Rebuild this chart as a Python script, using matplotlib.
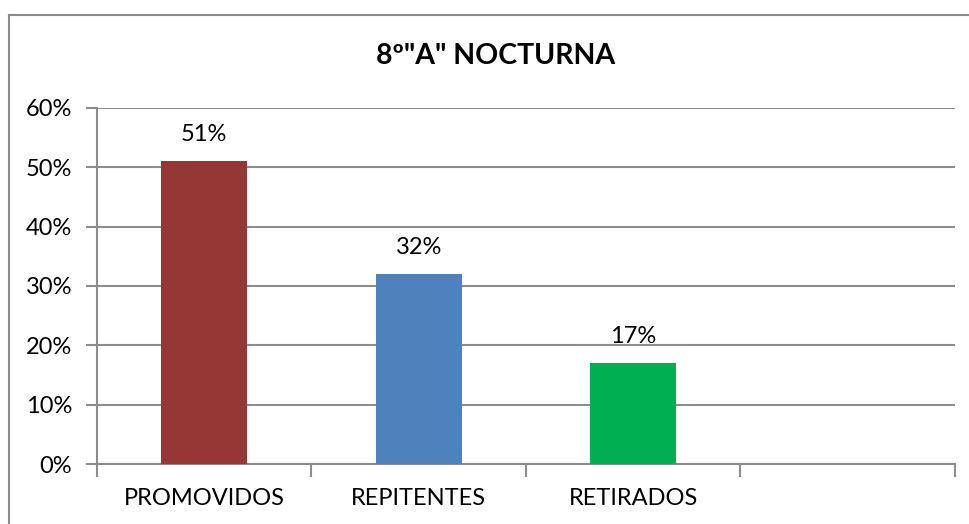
import matplotlib.pyplot as plt
from matplotlib.lines import Line2D
from matplotlib.ticker import PercentFormatter

categories = ["PROMOVIDOS", "REPITENTES", "RETIRADOS", ""]
values = [0.51, 0.32, 0.17, None]
labels = ["51%", "32%", "17%"]
colors = ["#953735", "#4F81BD", "#00B050"]
title = '8º"A" NOCTURNA'

plt.rcParams['font.family'] = ['Lato', 'DejaVu Sans']

fig = plt.figure(figsize=(9.7, 5.24), dpi=100)
ax = fig.add_axes([0.1, 0.1145, 0.8845, 0.6795])

grid_c = "#8c8c8c"
for i in range(3):
    ax.bar(i, values[i], width=0.4, color=colors[i], zorder=3)
    ax.text(i, values[i] + 0.027, labels[i], ha="center", va="bottom", fontsize=17)

ax.set_xlim(-0.5, 3.5)
ax.set_ylim(0, 0.6)
ax.set_yticks([0, 0.1, 0.2, 0.3, 0.4, 0.5, 0.6])
ax.yaxis.set_major_formatter(PercentFormatter(1.0, decimals=0))
ax.yaxis.grid(True, color=grid_c, linewidth=1.5, zorder=0)
ax.set_axisbelow(True)

ax.set_xticks(range(4))
ax.set_xticklabels(categories)
ax.set_xticks([-0.5, 0.5, 1.5, 2.5, 3.5], minor=True)
ax.tick_params(axis="x", which="major", length=0, pad=17, labelsize=17)
ax.tick_params(axis="x", which="minor", length=9, width=1.5, color=grid_c)
ax.tick_params(axis="y", length=8, width=1.5, color=grid_c, labelsize=17, pad=10)

for s in ["top", "right"]:
    ax.spines[s].set_visible(False)
for s in ["left", "bottom"]:
    ax.spines[s].set_color(grid_c)
    ax.spines[s].set_linewidth(1.5)

fig.text(0.511, 0.893, title, ha="center", va="center", fontsize=20.5, fontweight="bold")

# outer chart border (left and top edges visible)
fig.add_artist(Line2D([0.0093, 0.0093], [0, 0.972], color=grid_c, linewidth=1.5, transform=fig.transFigure))
fig.add_artist(Line2D([0.0093, 1.0], [0.972, 0.972], color=grid_c, linewidth=1.5, transform=fig.transFigure))

fig.savefig("out.png", dpi=100)
